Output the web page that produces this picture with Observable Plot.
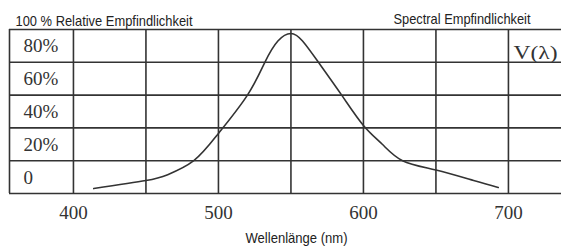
<!DOCTYPE html>
<html>
<head>
<meta charset="utf-8">
<script src="https://cdn.jsdelivr.net/npm/d3@7"></script>
<script src="https://cdn.jsdelivr.net/npm/@observablehq/plot@0.6"></script>
<style>
  html, body { margin: 0; padding: 0; background: #fff; }
  #chart svg { display: block; }
</style>
</head>
<body>
<div id="chart"></div>
<script>
// Curve: wavelength (nm) and relative sensitivity (%)
const wavelengths = [414, 450, 465, 483, 500, 520, 532, 541, 550, 558, 569, 585, 600, 613, 627, 650, 676, 693];
const sensitivity = [3.0, 7.9, 11.5, 20.0, 36.6, 60.0, 80.0, 93.0, 97.6, 93.0, 80.0, 60.0, 41.5, 30.0, 20.0, 14.3, 7.9, 3.7];

const xTicks = [400, 500, 600, 700];
const xGrid = [400, 450, 500, 550, 600, 650, 700];
const yGrid = [0, 20, 40, 60, 80, 100];
const yTicks = [0, 20, 40, 60, 80];
const yTickLabels = ["0", "20%", "40%", "60%", "80%"];
const xDomain = [355.9, 736.6];
const leftEdge = [355.9];

const titleLeft = "100 % Relative Empfindlichkeit";
const titleRight = "Spectral Empfindlichkeit";
const xLabel = "Wellenlänge (nm)";
const seriesLabel = "V(λ)";

const data = wavelengths.map((w, i) => ({w, v: sensitivity[i]}));
const ink = "#333";
const serif = "'Liberation Serif', 'DejaVu Serif', serif";
const sans = "'Liberation Sans', Arial, sans-serif";

const chart = Plot.plot({
  width: 561,
  height: 249,
  marginLeft: 9,
  marginRight: 0,
  marginTop: 29,
  marginBottom: 56,
  style: {background: "#fff", color: ink, fontFamily: serif},
  x: {domain: xDomain},
  y: {domain: [0, 100]},
  marks: [
    Plot.ruleX(xGrid, {stroke: ink, strokeWidth: 1.6}),
    Plot.ruleX(leftEdge, {stroke: ink, strokeWidth: 1.6}),
    Plot.ruleY(yGrid, {stroke: ink, strokeWidth: 1.6}),
    Plot.axisX({ticks: xTicks, tickSize: 0, tickPadding: 12, fontSize: 19, fontFamily: serif, label: null}),
    Plot.axisY({ticks: yTicks, tickFormat: d => yTickLabels[yTicks.indexOf(d)], anchor: "left", tickSize: 0, textAnchor: "start", dx: 23, dy: -16, fontSize: 19, fontFamily: serif, label: null}),
    Plot.line(data, {x: "w", y: "v", curve: "natural", stroke: ink, strokeWidth: 1.6}),
    Plot.text([seriesLabel], {frameAnchor: "top-right", textAnchor: "end", dx: -4, dy: 16, fontSize: 19, fontFamily: serif, fill: ink, className: "t-series"}),
    Plot.text([titleLeft], {frameAnchor: "top-left", textAnchor: "start", dx: 6, dy: -14, fontSize: 15, fontFamily: sans, fill: "#222", className: "t-left"}),
    Plot.text([titleRight], {frameAnchor: "top-right", textAnchor: "start", dx: -168, dy: -16, fontSize: 15, fontFamily: sans, fill: "#222", className: "t-right"}),
    Plot.text([xLabel], {frameAnchor: "bottom", dy: 49, dx: 11, fontSize: 15, fontFamily: sans, fill: "#222", className: "t-xlabel"})
  ]
});
// narrow the sans-serif texts to the condensed widths of the original
const fit = [["t-left", 177], ["t-right", 137], ["t-xlabel", 102], ["t-series", 44]];
for (const [cls, len] of fit) {
  const t = chart.querySelector("." + cls + " text");
  if (t) { t.setAttribute("textLength", len); t.setAttribute("lengthAdjust", "spacingAndGlyphs"); }
}
document.getElementById("chart").appendChild(chart);
</script>
</body>
</html>
